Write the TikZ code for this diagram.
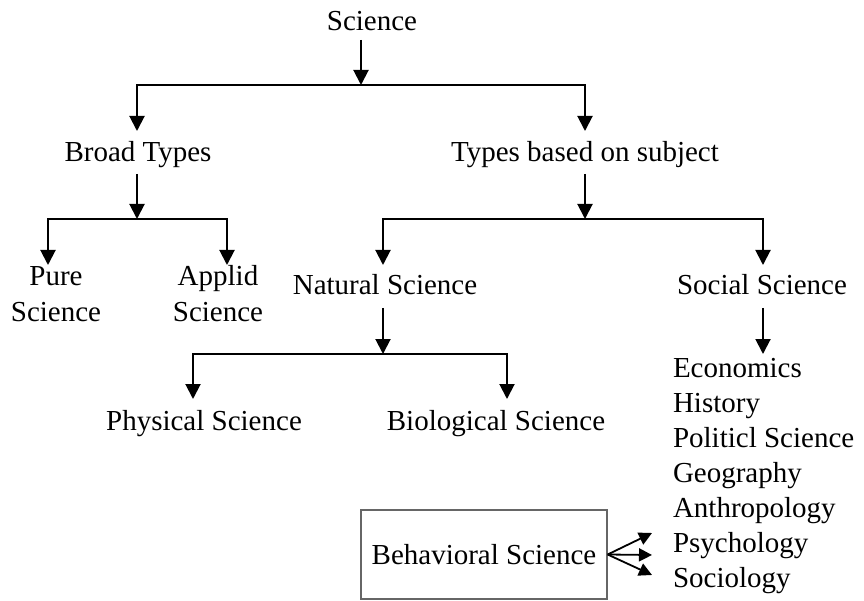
\documentclass[tikz,border=0pt]{standalone}
\usepackage{fontspec}
\setmainfont{Liberation Serif}
\usetikzlibrary{arrows.meta}
\setlength{\tabcolsep}{0pt}
\begin{document}
\begin{tikzpicture}[x=1pt,y=-1pt,
  lbl/.style={inner sep=0pt, outer sep=0pt, text height=20pt, text depth=6pt,
    anchor=base, font=\fontsize{29}{36}\selectfont},
  link/.style={line width=2pt, line join=miter},
  arr/.style={link, -{Triangle[width=15pt,length=15pt]}},
  fan/.style={line width=1.8pt, -{Triangle[width=13pt,length=13pt]}},
  boxed/.style={draw=black!60, line width=1.3pt, minimum width=246pt,
    minimum height=89pt, inner sep=0pt, font=\fontsize{29}{36}\selectfont}]
\useasboundingbox (0,0) rectangle (864,601);

% labels
\node[lbl] (sci)   at (372,31)  {Science};
\node[lbl] (broad) at (138,162) {Broad Types};
\node[lbl] (subj)  at (585,162) {Types based on subject};
\node[lbl] (pure)  at (56,286)  {\begin{tabular}[t]{c}Pure\\Science\end{tabular}};
\node[lbl] (appl)  at (218,286) {\begin{tabular}[t]{c}Applid\\Science\end{tabular}};
\node[lbl] (nat)   at (385,295) {Natural Science};
\node[lbl] (soc)   at (762,295) {Social Science};
\node[lbl] (phys)  at (204,430) {Physical Science};
\node[lbl] (bio)   at (496,430) {Biological Science};
\node[lbl, anchor=base west, font=\fontsize{29}{35}\selectfont] (list) at (673,377)
  {\begin{tabular}[t]{l}Economics\\History\\Politicl Science\\Geography\\Anthropology\\Psychology\\Sociology\end{tabular}};
\node[boxed] (beh) at (484,554.5) {Behavioral Science};

% junctions of the branching lines
\coordinate (s0) at (361,85);  \coordinate (s1) at (137,85);  \coordinate (s2) at (585,85);
\coordinate (b0) at (137,219); \coordinate (b1) at (48,219);  \coordinate (b2) at (227,219);
\coordinate (t0) at (585,219); \coordinate (t1) at (383,219); \coordinate (t2) at (763,219);
\coordinate (n0) at (383,354); \coordinate (n1) at (193,354); \coordinate (n2) at (507,354);
\coordinate (p1) at (652,533); \coordinate (p2) at (652,555); \coordinate (p3) at (652,575);

% Science
\draw[arr] ([yshift=-3pt]sci.south -| s0) -- (s0);
\draw[arr] (s0) -- (s1) -- ([yshift=11pt]broad.north -| s1);
\draw[arr] (s0) -- (s2) -- ([yshift=11pt]subj.north -| s2);

% Broad types
\draw[arr] ([yshift=-6pt]broad.south -| b0) -- (b0);
\draw[arr] (b0) -- (b1) -- ([yshift=1pt]pure.north -| b1);
\draw[arr] (b0) -- (b2) -- ([yshift=1pt]appl.north -| b2);

% Types based on subject
\draw[arr] ([yshift=-6pt]subj.south -| t0) -- (t0);
\draw[arr] (t0) -- (t1) -- ([yshift=10pt]nat.north -| t1);
\draw[arr] (t0) -- (t2) -- ([yshift=10pt]soc.north -| t2);

% Natural science
\draw[arr] ([yshift=-7pt]nat.south -| n0) -- (n0);
\draw[arr] (n0) -- (n1) -- ([yshift=11pt]phys.north -| n1);
\draw[arr] (n0) -- (n2) -- ([yshift=11pt]bio.north -| n2);

% Social science
\draw[arr] ([yshift=-7pt]soc.south -| t2) -- ([yshift=3pt]list.north -| t2);

% Behavioral science
\draw[fan] (beh.east) -- (p1);
\draw[fan] (beh.east) -- (p2);
\draw[fan] (beh.east) -- (p3);
\end{tikzpicture}
\end{document}
